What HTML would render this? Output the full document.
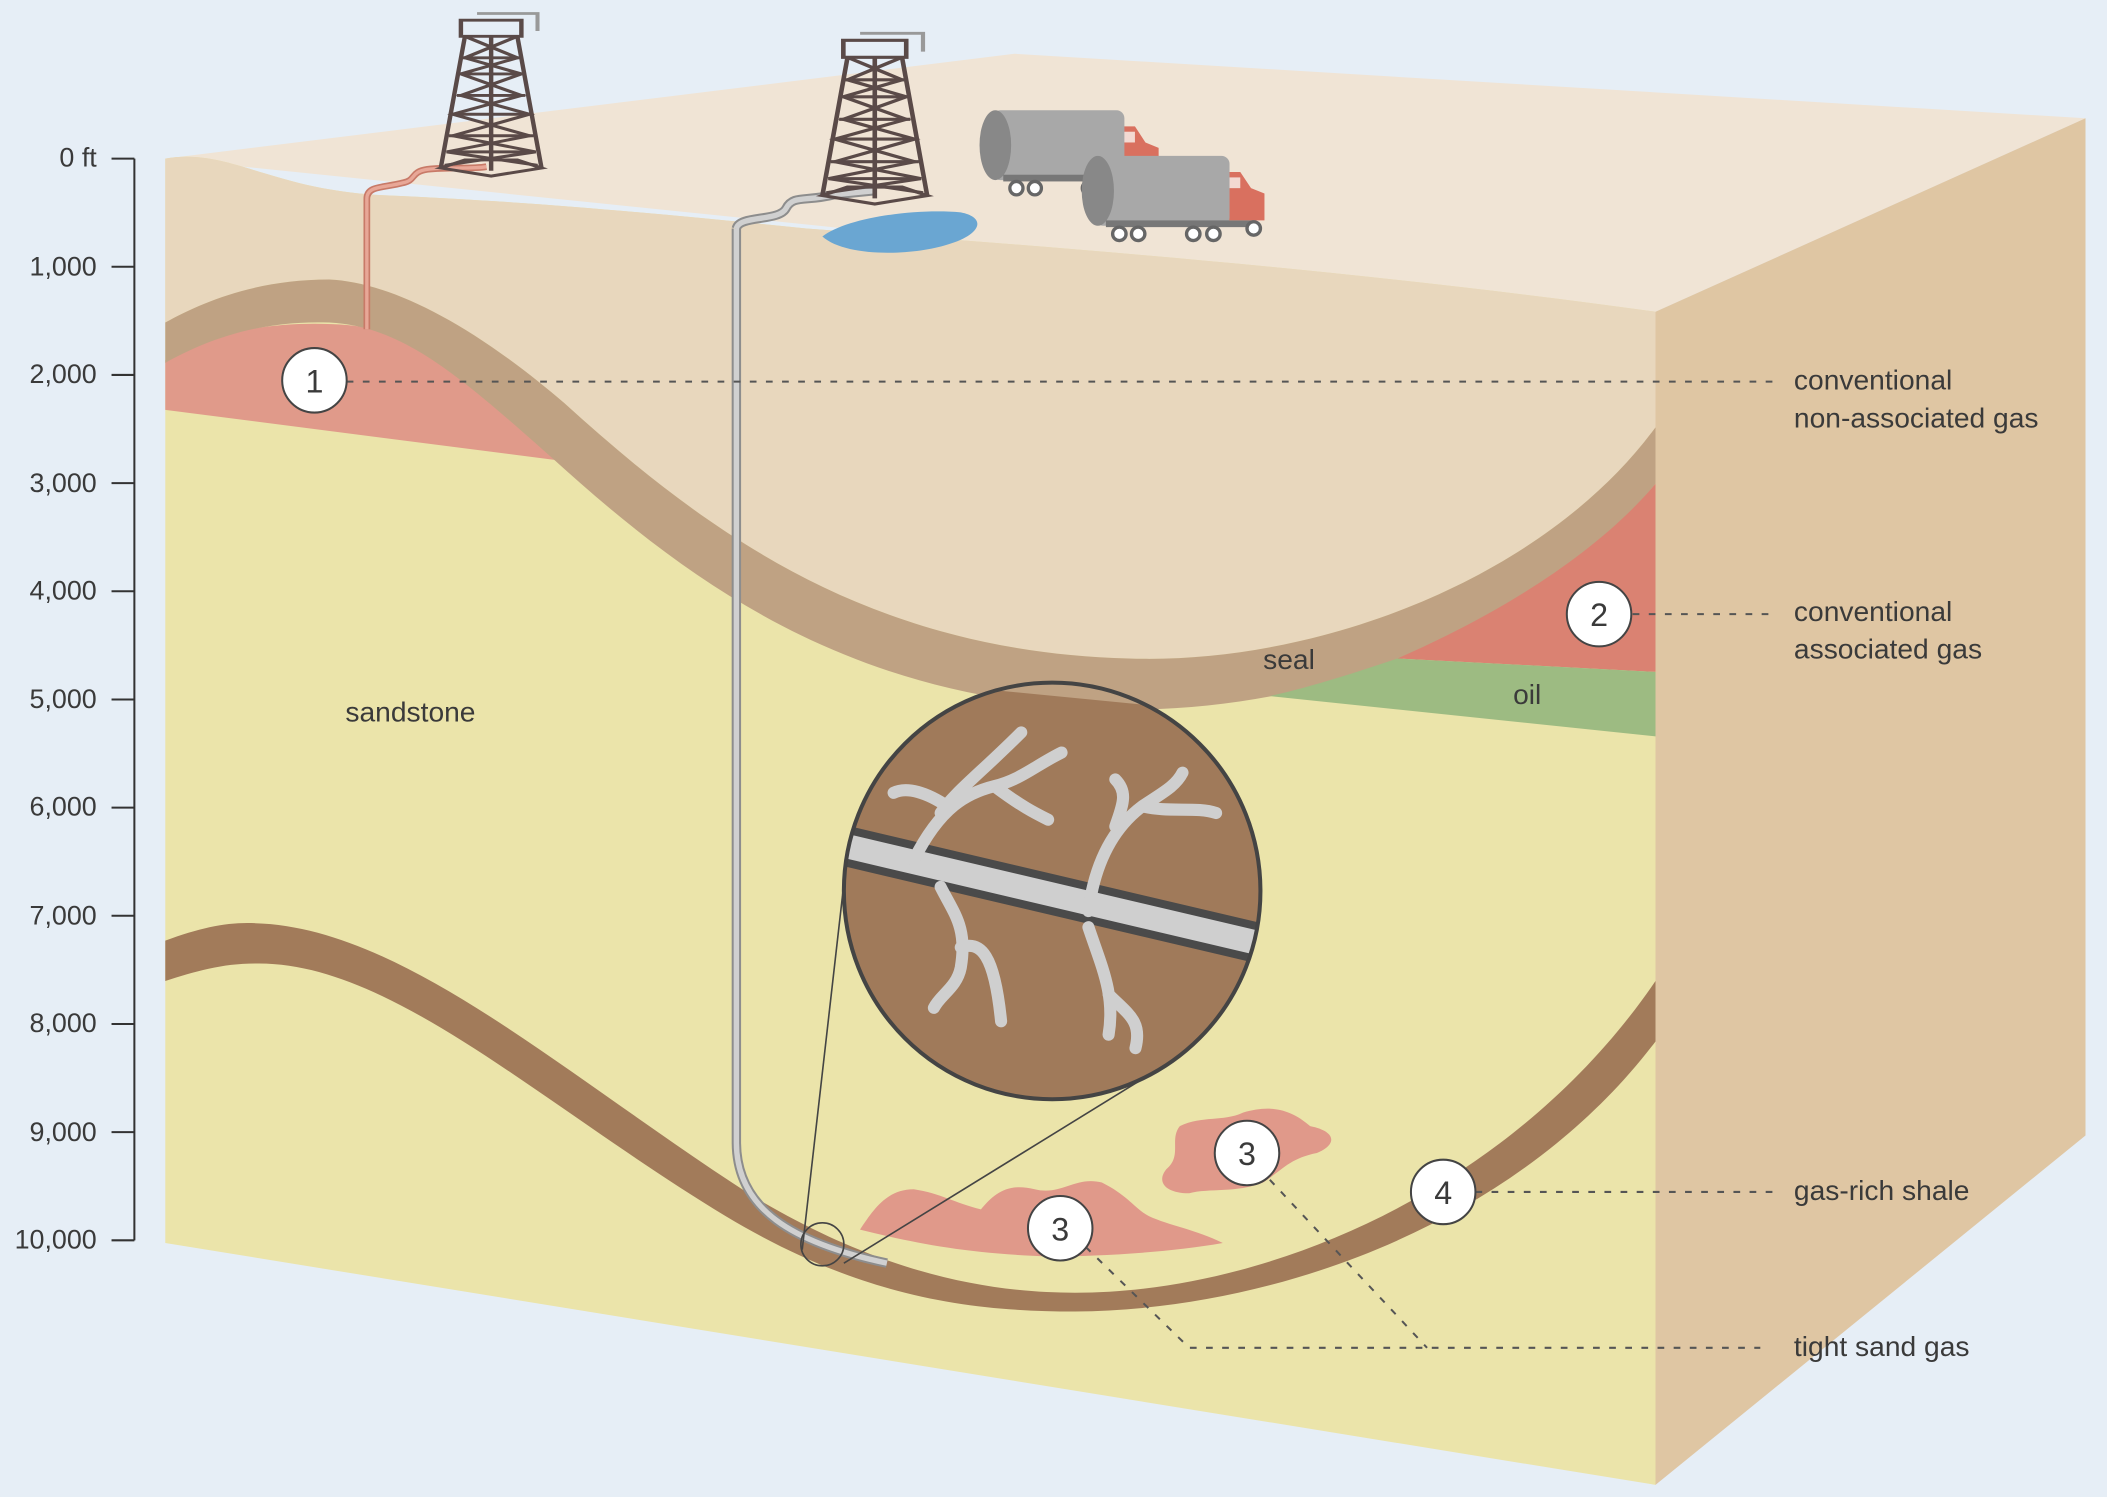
<!DOCTYPE html>
<html><head><meta charset="utf-8"><style>
html,body{margin:0;padding:0;background:#e6eef6;}
svg{display:block;}
text{font-family:"Liberation Sans",sans-serif;fill:#3a3a3a;}
</style></head><body>
<svg width="2107" height="1497" viewBox="0 0 1568 1114" xmlns="http://www.w3.org/2000/svg">
<defs>
<g id="der">
 <g fill="none" stroke="#5a4a48" stroke-width="2.2">
  <path d="M10,0 L40,0 L40,12 L10,12 Z"/>
  <path d="M12,12 L0,110 M38,12 L50,110 M25,12 L25,112 M0,110 L25,116 L50,110 L38,104 L12,104 Z"/>
  <path d="M12,12 L38,28 L10,40 L40,56 L6,70 L44,86 L3,98 L48,108"/>
  <path d="M38,12 L12,28 L40,40 L10,56 L44,70 L6,86 L47,98 L2,108"/>
  <path d="M11,28 L39,28 M10,40 L40,40 M8,56 L42,56 M6,70 L44,70 M4,86 L46,86 M3,98 L47,98"/>
 </g>
 <path d="M18,-5 L48,-5 L48,8" fill="none" stroke="#999" stroke-width="2"/>
</g>
<g id="truck">
 <path d="M100,12 L120,12 L128,24 L138,28 L138,48 L100,48 Z" fill="#d9705f"/>
 <rect x="110" y="16" width="10" height="8" fill="#f3d9d2"/>
 <rect x="12" y="0" width="100" height="52" rx="6" fill="#a8a8a8"/>
 <ellipse cx="14" cy="26" rx="12" ry="26" fill="#888"/>
 <rect x="20" y="48" width="110" height="5" fill="#777"/>
 <g fill="#fff" stroke="#666" stroke-width="2.5"><circle cx="30" cy="58" r="5"/><circle cx="44" cy="58" r="5"/><circle cx="85" cy="58" r="5"/><circle cx="100" cy="58" r="5"/><circle cx="130" cy="54" r="5"/></g>
</g>
</defs>
<rect width="1568" height="1114" fill="#e6eef6"/>
<path d="M123,118 L755,40 L1552,88 L1232,232 Z" fill="#f0e4d5"/>
<path d="M1232,232 L1552,88 L1552,845 L1232,1105 Z" fill="#dfc6a3"/>
<path d="M123,118 C170,110 200,140 280,145 C400,150 500,160 600,170 C800,185 1000,200 1232,232 L1232,1105 L123,925 Z" fill="#ebe4aa"/>
<path d="M123,118 C170,110 200,140 280,145 C400,150 500,160 600,170 C800,185 1000,200 1232,232 L1232,318 C1150,430 980,495 840,490 C650,485 530,400 420,300 C350,240 290,210 245,208 C190,208 150,225 123,240 Z" fill="#e8d7bd"/>
<path d="M123,268 C160,245 210,238 260,242 C330,250 390,290 450,347 L123,305 Z" fill="#e09a8a"/>
<path d="M123,240 C150,225 190,208 245,208 C290,210 350,240 420,300 C530,400 650,485 840,490 C980,495 1150,430 1232,318 L1232,360 C1150,460 1000,528 840,528 C640,525 520,440 410,340 C340,278 300,243 245,240 C190,238 150,255 123,270 Z" fill="#bfa283"/>
<path d="M1232,360 L1232,500 L1040,490 C1120,455 1190,410 1232,360 Z" fill="#da8272"/>
<path d="M1040,490 L1232,500 L1232,548 L945,518 C980,510 1010,500 1040,490 Z" fill="#9dbb82"/>
<path d="M123,700 C150,690 170,686 190,687 C300,690 420,800 560,890 C660,950 740,962 800,962 C950,962 1130,880 1232,730 L1232,775 C1130,910 950,975 800,976 C720,976 640,965 540,905 C400,820 290,715 190,717 C165,717 145,723 123,730 Z" fill="#a27b5a"/>
<path d="M640,915 C650,900 660,885 680,885 C700,888 710,895 730,900 C740,888 750,880 770,885 C790,890 800,875 820,880 C840,890 845,900 855,905 C870,912 890,915 910,925 C870,932 820,935 780,935 C720,933 680,925 640,915 Z" fill="#e0998a"/>
<path d="M878,838 C895,830 910,835 925,828 C945,822 960,825 975,838 C995,842 995,852 980,858 C960,862 955,870 940,880 C920,888 900,884 885,888 C868,888 860,880 868,870 C880,860 870,848 878,838 Z" fill="#e0998a"/>
<path d="M273,245 L273,148 C273,138 285,140 300,136 C310,134 305,128 318,126 C335,124 350,126 362,124" fill="none" stroke="#c87a68" stroke-width="5"/>
<path d="M273,245 L273,148 C273,138 285,140 300,136 C310,134 305,128 318,126 C335,124 350,126 362,124" fill="none" stroke="#e8a797" stroke-width="2.5"/>
<path d="M548,170 C550,160 580,165 585,155 C590,145 600,150 620,145 L650,142 M548,170 L548,850 C548,900 590,925 660,940" fill="none" stroke="#8d8d8d" stroke-width="7"/>
<path d="M548,170 C550,160 580,165 585,155 C590,145 600,150 620,145 L650,142 M548,170 L548,850 C548,900 590,925 660,940" fill="none" stroke="#d0d0d0" stroke-width="4"/>
<path d="M612,176 C630,162 680,155 715,158 C735,162 730,175 705,182 C680,190 630,192 612,176 Z" fill="#6aa6d2"/>
<use href="#der" transform="translate(328,15) scale(1.5,1)"/>
<use href="#der" transform="translate(612,30) scale(1.56,1.05)"/>
<use href="#truck" transform="translate(727,82) scale(0.98,1)"/>
<use href="#truck" transform="translate(803,116)"/>
<g stroke="#444" stroke-width="1.2" fill="none">
<line x1="597" y1="930" x2="630" y2="640"/><line x1="628" y1="940" x2="855" y2="800"/>
<circle cx="612" cy="926" r="16"/>
</g>
<clipPath id="c"><circle cx="783" cy="663" r="155"/></clipPath>
<circle cx="783" cy="663" r="155" fill="#a07a5a"/>
<g clip-path="url(#c)">
<path d="M600,500 L960,535 L960,520 L600,480 Z" fill="#bfa283"/>
<path d="M600,800 L960,835 L960,900 L600,900 Z" fill="#ebe4aa"/>
<path d="M610,625 L950,705" stroke="#4a4a4a" stroke-width="30"/>
<path d="M610,625 L950,705" stroke="#cfcfcf" stroke-width="18"/>
<g stroke="#cfcfcf" stroke-width="9" fill="none" stroke-linecap="round">
<path d="M680,640 C700,600 720,590 740,585 C760,580 770,570 790,560 M740,585 C760,600 770,605 780,610 M700,605 C710,590 730,575 760,545 M705,600 C690,590 675,585 665,590"/>
<path d="M700,660 C710,680 720,690 715,720 C712,735 700,740 695,750 M715,705 C730,700 740,710 745,760"/>
<path d="M810,678 C815,640 830,615 850,600 C865,590 875,585 880,575 M830,615 C835,600 840,590 830,580 M850,600 C870,605 890,600 905,605"/>
<path d="M810,690 C820,720 830,740 825,770 M825,740 C840,755 850,760 845,780"/>
</g>
</g>
<circle cx="783" cy="663" r="155" fill="none" stroke="#444" stroke-width="3"/>
<g stroke="#555" stroke-width="1.5" stroke-dasharray="5,7" fill="none">
<line x1="258" y1="284" x2="1320" y2="284"/>
<line x1="1215" y1="457" x2="1320" y2="457"/>
<line x1="1098" y1="887" x2="1320" y2="887"/>
<path d="M808,928 L885,1003 L1310,1003 M945,878 L1062,1003"/>
</g>
<g fill="#fff" stroke="#444" stroke-width="1.5">
<circle cx="234" cy="283" r="24"/><circle cx="1190" cy="457" r="24"/>
<circle cx="928" cy="858" r="24"/><circle cx="789" cy="914" r="24"/><circle cx="1074" cy="887" r="24"/>
</g>
<g font-size="24" text-anchor="middle">
<text x="234" y="292">1</text><text x="1190" y="466">2</text><text x="928" y="867">3</text><text x="789" y="923">3</text><text x="1074" y="896">4</text>
</g>
<g stroke="#333" stroke-width="1.5">
<line x1="100" y1="118" x2="100" y2="923"/>
<line x1="83" y1="118" x2="100" y2="118"/><line x1="83" y1="198.5" x2="100" y2="198.5"/><line x1="83" y1="279" x2="100" y2="279"/><line x1="83" y1="359.5" x2="100" y2="359.5"/><line x1="83" y1="440" x2="100" y2="440"/><line x1="83" y1="520.5" x2="100" y2="520.5"/><line x1="83" y1="601" x2="100" y2="601"/><line x1="83" y1="681.5" x2="100" y2="681.5"/><line x1="83" y1="762" x2="100" y2="762"/><line x1="83" y1="842.5" x2="100" y2="842.5"/><line x1="83" y1="923" x2="100" y2="923"/>
</g>
<g font-size="20" text-anchor="end">
<text x="72" y="124">0 ft</text><text x="72" y="205">1,000</text><text x="72" y="285">2,000</text><text x="72" y="366">3,000</text><text x="72" y="446">4,000</text><text x="72" y="527">5,000</text><text x="72" y="607">6,000</text><text x="72" y="688">7,000</text><text x="72" y="768">8,000</text><text x="72" y="849">9,000</text><text x="72" y="929">10,000</text>
</g>
<g font-size="21">
<text x="257" y="537">sandstone</text><text x="940" y="498">seal</text><text x="1126" y="524">oil</text>
<text x="1335" y="290">conventional</text><text x="1335" y="318">non-associated gas</text>
<text x="1335" y="462">conventional</text><text x="1335" y="490">associated gas</text>
<text x="1335" y="893">gas-rich shale</text><text x="1335" y="1009">tight sand gas</text>
</g>
</svg>
</body></html>
